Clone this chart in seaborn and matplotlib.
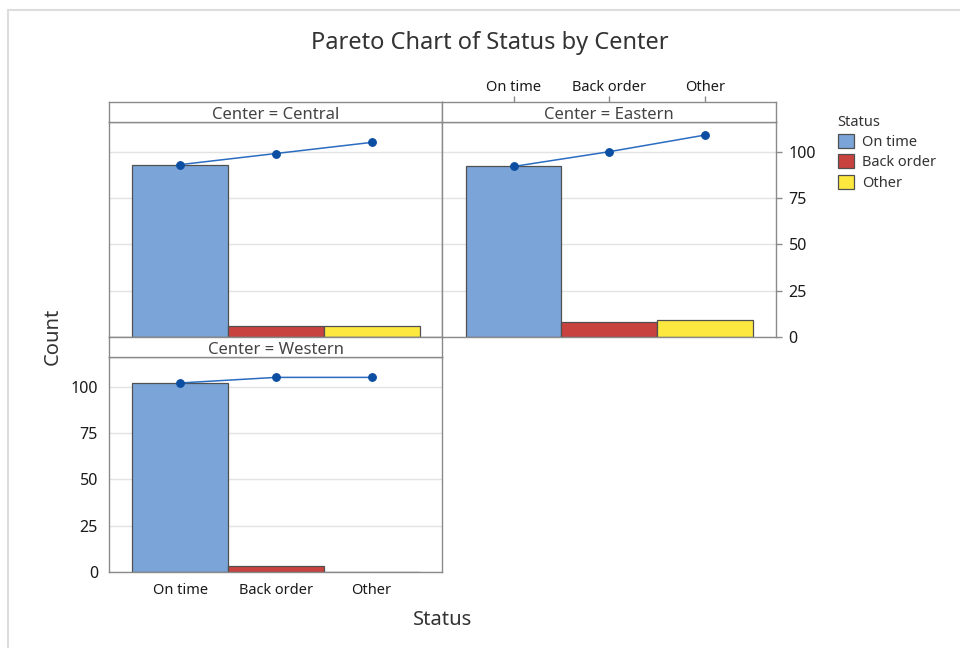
import matplotlib
matplotlib.use("Agg")
import matplotlib.pyplot as plt
from matplotlib.patches import Patch, Rectangle
import seaborn as sns
import pandas as pd

# ---- data ----
statuses = ["On time", "Back order", "Other"]
centers = ["Central", "Eastern", "Western"]
central_counts = [93, 6, 6]
eastern_counts = [92, 8, 9]
western_counts = [102, 3, 0]
y_ticks = [0, 25, 50, 75, 100]

colors = ["#7BA5D8", "#C8423F", "#FDE83F"]
line_color = "#2A6CC0"
marker_color = "#0B4EA2"
frame_color = "#8A8A8A"
text_color = "#333333"

sns.set_theme(style="white")
plt.rcParams["font.family"] = ["Noto Sans", "DejaVu Sans"]
plt.rcParams["text.color"] = text_color
plt.rcParams["axes.labelcolor"] = text_color
plt.rcParams["xtick.color"] = "#1A1A1A"
plt.rcParams["ytick.color"] = "#1A1A1A"

counts = {"Central": central_counts, "Eastern": eastern_counts, "Western": western_counts}
rows = []
for c in centers:
    cum = 0
    for s, v in zip(statuses, counts[c]):
        cum += v
        rows.append({"Center": c, "Status": s, "Count": v, "Cum": cum})
df = pd.DataFrame(rows)

W, H = 960, 648
fig = plt.figure(figsize=(W / 100, H / 100), dpi=100)

def fbox(x0, y0, x1, y1):
    return [x0 / W, 1 - y1 / H, (x1 - x0) / W, (y1 - y0) / H]

panels = {
    "Central": ((109, 122, 442, 337), (109, 102, 442, 122)),
    "Eastern": ((442, 122, 776, 337), (442, 102, 776, 122)),
    "Western": ((109, 357, 442, 572), (109, 337, 442, 357)),
}

YMAX = 116
XLIM = (-0.745, 2.735)
TL = 4  # tick length in points
for c in centers:
    (pb, sb) = panels[c]
    ax = fig.add_axes(fbox(*pb))
    d = df[df["Center"] == c]
    sns.barplot(data=d, x="Status", y="Count", hue="Status", order=statuses,
                hue_order=statuses, palette=colors, saturation=1, width=1.0, errorbar=None,
                edgecolor="#505050", linewidth=0.9, legend=False, ax=ax, zorder=2)
    sns.pointplot(data=d, x="Status", y="Cum", order=statuses, color=line_color,
                  markers="o", markersize=5.5, linewidth=1.1, errorbar=None,
                  ax=ax, markerfacecolor=marker_color, markeredgecolor=marker_color,
                  zorder=4)
    ax.set_xlim(*XLIM)
    ax.set_ylim(0, YMAX)
    ax.set_yticks(y_ticks)
    ax.grid(axis="y", color="#E3E3E3", linewidth=1, zorder=0)
    ax.set_axisbelow(True)
    ax.set_xlabel("")
    ax.set_ylabel("")
    for sp in ax.spines.values():
        sp.set_color(frame_color)
        sp.set_linewidth(1)
    ax.tick_params(axis="both", which="both", length=0, pad=4)
    ax.tick_params(axis="x", labelsize=10.5)
    ax.tick_params(axis="y", labelsize=11.5)
    ax.set_xticks(range(len(statuses)))
    ax.set_xticklabels(statuses)
    if c == "Central":
        ax.tick_params(labelbottom=False, labelleft=False)
    elif c == "Eastern":
        ax.tick_params(labelbottom=False, labelleft=False)
        ax.yaxis.tick_right()
        ax.tick_params(axis="y", length=TL, width=1, color=frame_color, labelright=True, pad=5)
    else:
        ax.tick_params(axis="y", length=TL, width=1, color=frame_color, labelleft=True, pad=4)
        ax.tick_params(axis="x", length=TL, width=1, color=frame_color, labelbottom=True, pad=4)

    sax = fig.add_axes(fbox(*sb))
    sax.set_xlim(*XLIM)
    sax.set_yticks([])
    if c == "Eastern":
        sax.set_xticks(range(len(statuses)))
        sax.set_xticklabels(statuses)
        sax.xaxis.tick_top()
        sax.tick_params(axis="x", length=TL, width=1, color=frame_color, labelsize=10.5,
                        pad=1, labeltop=True, labelbottom=False)
    else:
        sax.set_xticks([])
    for sp in sax.spines.values():
        sp.set_color(frame_color)
        sp.set_linewidth(1)
    sax.set_facecolor("white")
    sax.text(0.5, 0.36, f"Center = {c}", ha="center", va="center",
             fontsize=12, color="#444444", transform=sax.transAxes)

fig.text(490 / W, 1 - 43 / H, "Pareto Chart of Status by Center", ha="center",
         va="center", fontsize=17, color=text_color)
fig.text(53 / W, 1 - 336 / H, "Count", ha="center", va="center", rotation=90,
         fontsize=14.5, color=text_color)
fig.text(443 / W, 1 - 620 / H, "Status", ha="center", va="center",
         fontsize=14.5, color=text_color)

handles = [Patch(facecolor=col, edgecolor="#505050", linewidth=0.9, label=s)
           for s, col in zip(statuses, colors)]
leg = fig.legend(handles=handles, title="Status", loc="upper left",
                 bbox_to_anchor=(826 / W, 1 - 103 / H), frameon=False,
                 fontsize=10.5, title_fontsize=10.5, handlelength=1.1,
                 handleheight=1.1, handletextpad=0.6, labelspacing=0.3,
                 alignment="left", borderpad=0.3)
leg.get_title().set_color(text_color)

# outer light border of the screenshot frame
fig.add_artist(Rectangle((8 / W, -0.1), 1.2, 1 - 10.5 / H + 0.1, transform=fig.transFigure,
                         fill=False, edgecolor="#DDDDDD", linewidth=1.5))

fig.savefig("out.png", dpi=100)
